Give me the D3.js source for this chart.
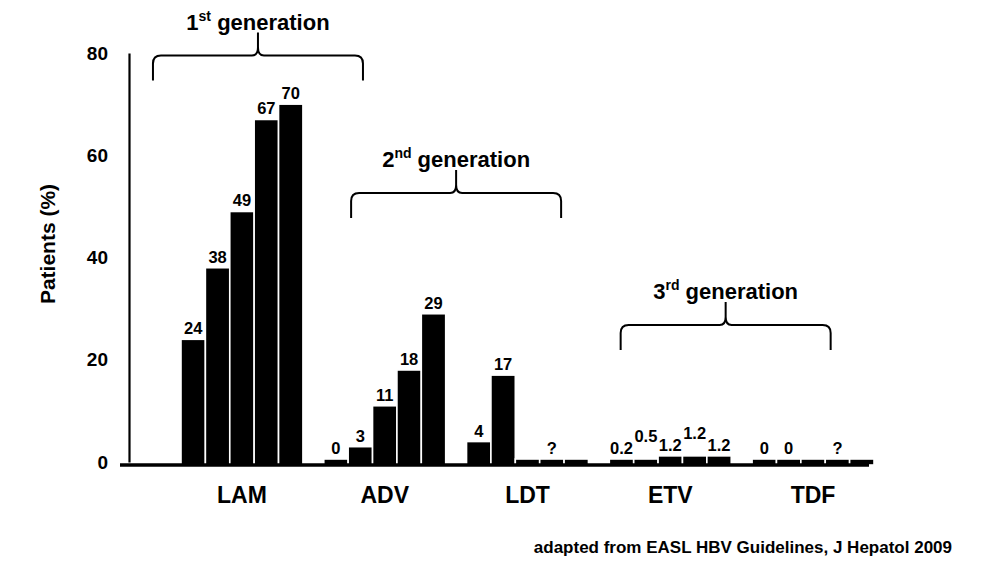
<!DOCTYPE html>
<html>
<head>
<meta charset="utf-8">
<script src="https://cdn.jsdelivr.net/npm/d3@7"></script>
<style>
  html, body { margin: 0; padding: 0; background: #fff; }
  svg { display: block; font-family: "Liberation Sans", Arial, sans-serif; font-weight: bold; }
</style>
</head>
<body>
<svg id="chart" width="1000" height="579"></svg>
<script>
// ---- data ----
const groups = ["LAM", "ADV", "LDT", "ETV", "TDF"];
const barValues = [
  [24, 38, 49, 67, 70],
  [0, 3, 11, 18, 29],
  [4, 17, null, null, null],
  [0.2, 0.5, 1.2, 1.2, 1.2],
  [0, 0, null, null, null]
];
const barLabels = [
  ["24", "38", "49", "67", "70"],
  ["0", "3", "11", "18", "29"],
  ["4", "17", "", "?", ""],
  ["0.2", "0.5", "1.2", "1.2", "1.2"],
  ["0", "0", "", "?", ""]
];
const yTicks = [0, 20, 40, 60, 80];
const yTitle = "Patients (%)";
const genNumbers = ["1", "2", "3"];
const genSuffixes = ["st", "nd", "rd"];
const genWord = " generation";
const genGroups = [["LAM"], ["ADV", "LDT"], ["ETV", "TDF"]];
const genLevels = [79.5, 52.6, 26.8]; // bracket height in data units
const footnote = "adapted from EASL HBV Guidelines, J Hepatol 2009";

// ---- layout ----
const svg = d3.select("#chart");
const W = 1000, H = 579;
svg.append("rect").attr("width", W).attr("height", H).attr("fill", "#fff");

const y = d3.scaleLinear().domain([0, 80]).range([462, 53]);
const x = d3.scaleBand().domain(groups).range([181, 874]).paddingInner(0.146).paddingOuter(0);
const inner = d3.scaleBand().domain(d3.range(5)).range([0, x.bandwidth()]).padding(0);

const baseY = 465;
const minStub = 3;

// bars
const barData = [];
groups.forEach((g, gi) => {
  barValues[gi].forEach((v, i) => {
    barData.push({ g, gi, i, v, label: barLabels[gi][i] });
  });
});

svg.append("g").selectAll("rect").data(barData).join("rect")
  .attr("x", d => x(d.g) + inner(d.i))
  .attr("width", inner.bandwidth())
  .attr("y", d => Math.min(y(d.v || 0), y(0) - minStub))
  .attr("height", d => baseY - Math.min(y(d.v || 0), y(0) - minStub))
  .attr("fill", "#000")
  .attr("stroke", "#fff")
  .attr("stroke-width", 1.6);

// value labels (stagger when labels are wide)
const wideGroup = groups.map((g, gi) => barLabels[gi].some(t => t.length >= 3));
svg.append("g").selectAll("text").data(barData.filter(d => d.label)).join("text")
  .attr("x", d => x(d.g) + inner(d.i) + inner.bandwidth() / 2)
  .attr("y", d => {
    const top = Math.min(y(d.v || 0), y(0) - minStub);
    const lift = (wideGroup[d.gi] && d.i % 2 === 1) ? 12 : 0;
    return top - 5 - lift;
  })
  .attr("text-anchor", "middle")
  .attr("font-size", 16.5)
  .attr("fill", "#000")
  .text(d => d.label);

// x baseline
svg.append("line")
  .attr("x1", 120).attr("x2", x.range()[1] - 5)
  .attr("y1", baseY).attr("y2", baseY)
  .attr("stroke", "#000").attr("stroke-width", 3.5);

// x category labels
const xAxis = svg.append("g").attr("transform", `translate(0,${baseY})`)
  .call(d3.axisBottom(x).tickSize(0).tickPadding(22));
xAxis.select(".domain").remove();
xAxis.attr("font-family", null);
xAxis.selectAll("text").attr("font-size", 23).attr("fill", "#000");

// y axis
const yAxis = svg.append("g").attr("transform", "translate(129,0)")
  .call(d3.axisLeft(y).tickValues(yTicks).tickSize(0).tickPadding(21).tickSizeOuter(0));
yAxis.attr("font-family", null);
yAxis.select(".domain").attr("stroke", "#000").attr("stroke-width", 2.2);
yAxis.selectAll("text").attr("font-size", 19).attr("fill", "#000");

// y title
svg.append("text")
  .attr("transform", "translate(55,244) rotate(-90)")
  .attr("text-anchor", "middle")
  .attr("font-size", 21)
  .attr("fill", "#000")
  .text(yTitle);

// generation brackets
const halfW = 105, depth = 25, tip = 23, r = 8;
genGroups.forEach((gs, k) => {
  const cx = d3.mean(gs, g => x(g) + x.bandwidth() / 2) + (k === 0 ? 16 : (k === 2 ? -16 : 0));
  const ly = y(genLevels[k]);
  const x0 = cx - halfW, x1 = cx + halfW;
  const p = d3.path();
  p.moveTo(x0, ly + depth);
  p.lineTo(x0, ly + r);
  p.quadraticCurveTo(x0, ly, x0 + r, ly);
  p.lineTo(cx - 6, ly);
  p.quadraticCurveTo(cx, ly, cx, ly - 8);
  p.lineTo(cx, ly - tip);
  p.moveTo(cx, ly - 8);
  p.quadraticCurveTo(cx, ly, cx + 6, ly);
  p.lineTo(x1 - r, ly);
  p.quadraticCurveTo(x1, ly, x1, ly + r);
  p.lineTo(x1, ly + depth);
  svg.append("path").attr("d", p.toString())
    .attr("fill", "none").attr("stroke", "#000").attr("stroke-width", 2);

  const t = svg.append("text")
    .attr("x", cx).attr("y", ly - 26)
    .attr("text-anchor", "middle")
    .attr("font-size", 22)
    .attr("fill", "#000");
  t.append("tspan").text(genNumbers[k]);
  t.append("tspan").attr("font-size", 14).attr("dy", -9).text(genSuffixes[k]);
  t.append("tspan").attr("dy", 9).text(genWord);
});

// footnote
svg.append("text")
  .attr("x", 952).attr("y", 553)
  .attr("text-anchor", "end")
  .attr("font-size", 17)
  .attr("fill", "#000")
  .text(footnote);
</script>
</body>
</html>
